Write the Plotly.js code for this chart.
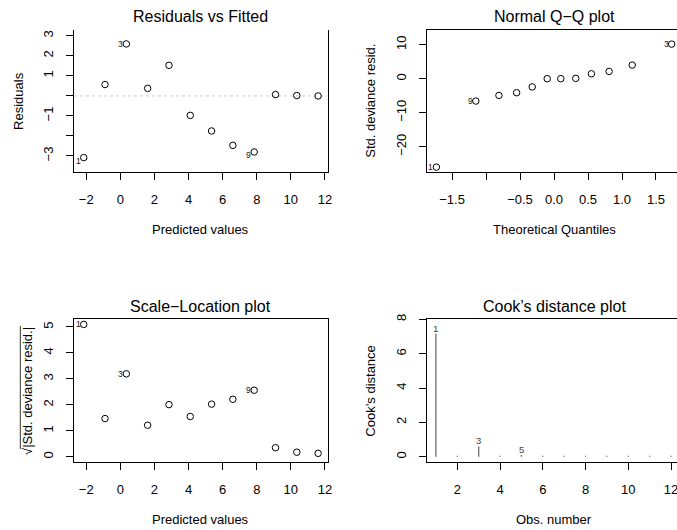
<!DOCTYPE html>
<html>
<head>
<meta charset="utf-8">
<script src="https://cdn.plot.ly/plotly-3.0.1.min.js"></script>
<style>
  html, body { margin: 0; padding: 0; background: #fff; overflow: hidden; }
  #plot { width: 677px; height: 530px; }
</style>
</head>
<body>
<div id="plot"></div>
<script>
// Diagnostic plots for a fitted GLM (12 observations)
const obsNumber = [1, 2, 3, 4, 5, 6, 7, 8, 9, 10, 11, 12];
const fittedValues = [-2.15, -0.90, 0.35, 1.60, 2.85, 4.10, 5.35, 6.60, 7.85, 9.10, 10.35, 11.60];
const residuals = [-3.08, 0.57, 2.60, 0.38, 1.53, -0.97, -1.75, -2.47, -2.80, 0.07, 0.02, 0.00];
const stdDevianceResid = [-26.0, 2.16, 10.2, 1.47, 4.03, -2.40, -4.10, -4.90, -6.56, 0.12, 0.03, 0.017];
const theoreticalQuantiles = [-1.73, -1.15, -0.81, -0.55, -0.32, -0.10, 0.10, 0.32, 0.55, 0.81, 1.15, 1.73];
const cooksDistance = [7.16, 0.06, 0.60, 0.06, 0.10, 0.06, 0.06, 0.06, 0.06, 0.06, 0.06, 0.06];
const labelledObs = [1, 3, 9];
const cookLabelledObs = [1, 3, 5];

// Tick values and labels
const predTicks = [-2, 0, 2, 4, 6, 8, 10, 12];
const predTickText = ['\u22122', '0', '2', '4', '6', '8', '10', '12'];
const residTicks = [-3, -2, -1, 0, 1, 2, 3];
const residTickText = ['\u22123', '', '\u22121', '', '1', '2', '3'];
const qqXTicks = [-1.5, -1.0, -0.5, 0.0, 0.5, 1.0, 1.5];
const qqXTickText = ['\u22121.5', '', '\u22120.5', '0.0', '0.5', '1.0', '1.5'];
const qqYTicks = [-20, -10, 0, 10];
const qqYTickText = ['\u221220', '\u221210', '0', '10'];
const slTicks = [0, 1, 2, 3, 4, 5];
const cookXTicks = [2, 4, 6, 8, 10, 12];
const cookYTicks = [0, 2, 4, 6, 8];

const FONT = '"Liberation Sans", Arial, Helvetica, sans-serif';
const W = 677, H = 530;
const px = v => v / W;
const py = v => 1 - v / H;

// Scale-location values and Q-Q ordering
const sqrtAbsResid = stdDevianceResid.map(v => Math.sqrt(Math.abs(v)));
const qqOrder = obsNumber.slice().sort((a, b) => stdDevianceResid[a - 1] - stdDevianceResid[b - 1]);
const qqSample = qqOrder.map(i => stdDevianceResid[i - 1]);

// Vertical "type h" segments for Cook's distance
const cookX = [], cookY = [];
obsNumber.forEach((o, i) => { cookX.push(o, o, null); cookY.push(0, cooksDistance[i], null); });

function axis(extra) {
  return Object.assign({
    showgrid: false, zeroline: false, showline: true, linecolor: '#000', linewidth: 1,
    ticks: 'outside', ticklen: 7, tickwidth: 1, tickcolor: '#000',
    tickfont: { family: FONT, size: 13, color: '#000' },
    fixedrange: true, automargin: false, tickmode: 'array', ticklabeloverflow: 'allow'
  }, extra);
}

const pointMarker = { symbol: 'circle-open', size: 6.5, color: '#000', line: { width: 1, color: '#000' } };

const traces = [
  { type: 'scatter', mode: 'markers', x: fittedValues, y: residuals, xaxis: 'x', yaxis: 'y',
    marker: pointMarker, hoverinfo: 'skip' },
  { type: 'scatter', mode: 'markers', x: theoreticalQuantiles, y: qqSample, xaxis: 'x2', yaxis: 'y2',
    marker: pointMarker, hoverinfo: 'skip' },
  { type: 'scatter', mode: 'markers', x: fittedValues, y: sqrtAbsResid, xaxis: 'x3', yaxis: 'y3',
    marker: pointMarker, hoverinfo: 'skip' },
  { type: 'scatter', mode: 'lines', x: cookX, y: cookY, xaxis: 'x4', yaxis: 'y4',
    line: { color: '#6a6a6a', width: 1.3 }, connectgaps: false, hoverinfo: 'skip' }
];

const annotations = [];
function txt(text, x, y, size, extra) {
  annotations.push(Object.assign({
    text: text, x: x, y: y, xref: 'paper', yref: 'paper', showarrow: false,
    xanchor: 'center', yanchor: 'middle', font: { family: FONT, size: size, color: '#000' }
  }, extra || {}));
}

// Panel titles
txt('Residuals vs Fitted', px(200.7), py(16.7), 16);
txt('Normal Q\u2212Q plot', px(554), py(16.7), 16);
txt('Scale\u2212Location plot', px(200.7), py(306.7), 16);
txt('Cook\u2019s distance plot', px(554), py(306.7), 16);

// Axis titles
txt('Predicted values', px(200.7), py(229), 13);
txt('Residuals', px(19.2), py(100.75), 13, { textangle: -90 });
txt('Theoretical Quantiles', px(554), py(229), 13);
txt('Std. deviance resid.', px(371), py(100.75), 13, { textangle: -90 });
txt('Predicted values', px(200.7), py(519), 13);
txt('\u221A|Std. deviance resid.|', px(27), py(391), 13, { textangle: -90 });
txt('Obs. number', px(554), py(519), 13);
txt('Cook\u2019s distance', px(371), py(390.7), 13, { textangle: -90 });

// Observation labels beside the points
function pointLabel(id, x, y, xa, ya, yshift) {
  annotations.push({
    text: String(id), x: x, y: y, xref: xa, yref: ya, showarrow: false,
    xanchor: 'right', yanchor: 'middle', xshift: -2, yshift: yshift, borderpad: 0,
    font: { family: FONT, size: 8.5, color: '#111' }
  });
}
labelledObs.forEach(id => {
  const i = id - 1;
  pointLabel(id, fittedValues[i], residuals[i], 'x', 'y', residuals[i] < 0 ? -3.5 : 0);
  const r = qqOrder.indexOf(id);
  pointLabel(id, theoreticalQuantiles[r], qqSample[r], 'x2', 'y2', 0);
  pointLabel(id, fittedValues[i], sqrtAbsResid[i], 'x3', 'y3', 0);
});
cookLabelledObs.forEach(id => {
  annotations.push({
    text: String(id), x: id, y: cooksDistance[id - 1], xref: 'x4', yref: 'y4', showarrow: false,
    xanchor: 'center', yanchor: 'bottom', yshift: -1, borderpad: 0,
    font: { family: FONT, size: 9.5, color: '#444' }
  });
});

const layout = {
  width: W, height: H,
  margin: { l: 0, r: 0, t: 0, b: 0, pad: 0 },
  paper_bgcolor: '#fff', plot_bgcolor: '#fff',
  showlegend: false,
  font: { family: FONT, size: 13, color: '#000' },
  xaxis: axis({ domain: [px(74), px(327.5)], range: [-2.72, 12.15], anchor: 'y',
    tickvals: predTicks, ticktext: predTickText, mirror: false, ticklabelstandoff: 8 }),
  yaxis: axis({ domain: [py(172), py(29.5)], range: [-3.80, 3.32], anchor: 'x',
    tickvals: residTicks, ticktext: residTickText, tickangle: -90, mirror: true, ticklabelstandoff: 8 }),
  xaxis2: axis({ domain: [px(427), 1], range: [-1.868, 1.809], anchor: 'y2',
    tickvals: qqXTicks, ticktext: qqXTickText, mirror: true, ticklabelstandoff: 8 }),
  yaxis2: axis({ domain: [py(172), py(29.5)], range: [-27.44, 14.5], anchor: 'x2',
    tickvals: qqYTicks, ticktext: qqYTickText, tickangle: -90, mirror: false, ticklabelstandoff: 8 }),
  xaxis3: axis({ domain: [px(74), px(327.5)], range: [-2.72, 12.15], anchor: 'y3',
    tickvals: predTicks, ticktext: predTickText, mirror: true, ticklabelstandoff: 8 }),
  yaxis3: axis({ domain: [py(462), py(319.3)], range: [-0.204, 5.296], anchor: 'x3',
    tickvals: slTicks, ticktext: slTicks.map(String), tickangle: -90, mirror: true, ticklabelstandoff: 8 }),
  xaxis4: axis({ domain: [px(427), 1], range: [0.583, 12.28], anchor: 'y4',
    tickvals: cookXTicks, ticktext: cookXTicks.map(String), mirror: true, ticklabelstandoff: 8 }),
  yaxis4: axis({ domain: [py(462), py(319.3)], range: [-0.308, 8.005], anchor: 'x4',
    tickvals: cookYTicks, ticktext: cookYTicks.map(String), tickangle: -90, mirror: false, ticklabelstandoff: 8 }),
  shapes: [
    // dotted reference line at zero residual
    { type: 'line', xref: 'x domain', yref: 'y', x0: 0, x1: 1, y0: 0, y1: 0,
      line: { color: '#cfcfcf', width: 1, dash: 'dot' }, layer: 'below' },
    // radical overline of the scale-location axis title
    { type: 'line', xref: 'paper', yref: 'paper', x0: px(20.3), x1: px(20.3), y0: py(449), y1: py(326),
      line: { color: '#000', width: 0.8 } }
  ],
  annotations: annotations
};

Plotly.newPlot('plot', traces, layout, { staticPlot: true, displayModeBar: false });
</script>
</body>
</html>
